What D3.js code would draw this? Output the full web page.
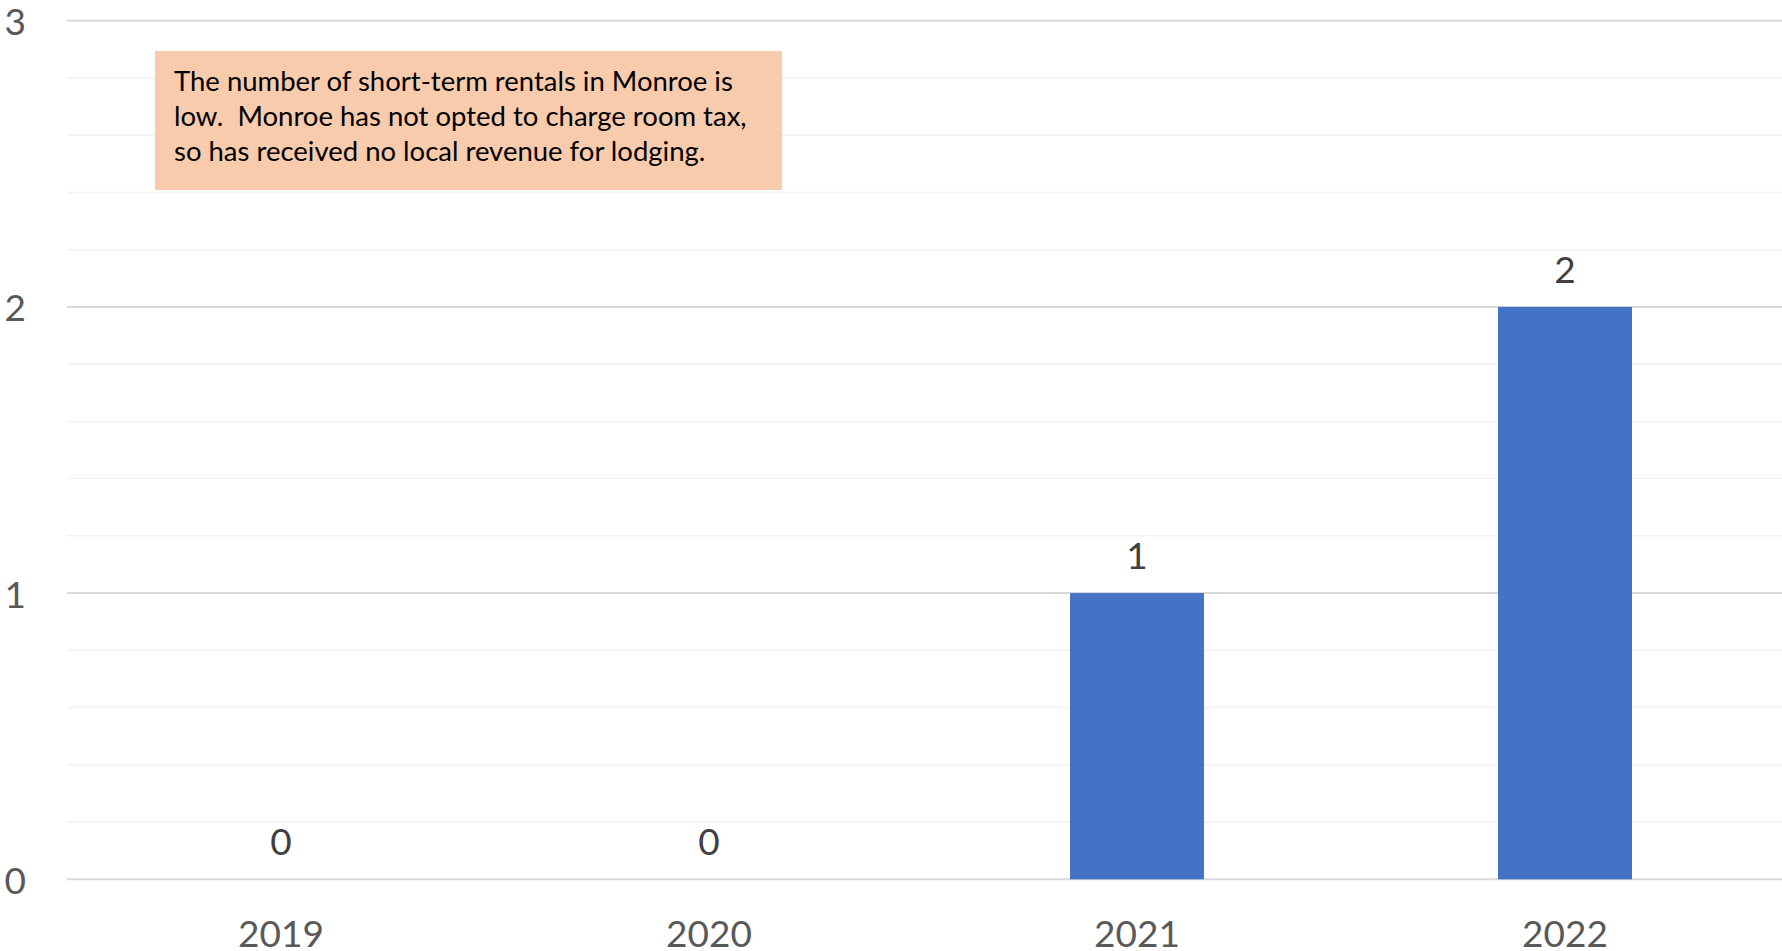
<!DOCTYPE html>
<html>
<head>
<meta charset="utf-8">
<script src="https://cdn.jsdelivr.net/npm/d3@7"></script>
<style>
  html, body { margin: 0; padding: 0; background: #fff; }
  svg { display: block; }
  .note-line { white-space: pre; }
</style>
</head>
<body>
<svg id="chart" width="1782" height="951"></svg>
<script>
// Short-term rentals in Monroe, by year
const years = ["2019", "2020", "2021", "2022"];
const rentals = [0, 0, 1, 2];
const yTicks = [0, 1, 2, 3];
const noteLines = [
  "The number of short-term rentals in Monroe is",
  "low.  Monroe has not opted to charge room tax,",
  "so has received no local revenue for lodging."
];

const font = "Lato, 'Open Sans', sans-serif";
const svg = d3.select("#chart");

const plot = { left: 67, right: 1779, top: 20.7, bottom: 879.3 };

const x = d3.scaleBand()
  .domain(years)
  .range([plot.left, plot.right])
  .paddingInner(0.687)
  .paddingOuter(0.3435);

const y = d3.scaleLinear()
  .domain([0, 3])
  .range([plot.bottom, plot.top]);

// minor gridlines every 0.2
const minor = d3.range(0, 3.0001, 0.2).filter(v => Math.abs(v - Math.round(v)) > 1e-6);
svg.append("g").selectAll("line").data(minor).join("line")
  .attr("x1", plot.left).attr("x2", 1782)
  .attr("y1", d => y(d)).attr("y2", d => y(d))
  .attr("stroke", "#f2f2f2").attr("stroke-width", 1.5);

// major gridlines
svg.append("g").selectAll("line").data(yTicks).join("line")
  .attr("x1", plot.left).attr("x2", 1782)
  .attr("y1", d => y(d)).attr("y2", d => y(d))
  .attr("stroke", "#d9d9d9").attr("stroke-width", 2);

// y tick labels
svg.append("g").selectAll("text").data(yTicks).join("text")
  .attr("x", 26).attr("y", d => y(d))
  .attr("text-anchor", "end")
  .attr("dominant-baseline", "central")
  .attr("font-family", font).attr("font-size", 37)
  .attr("fill", "#595959")
  .text(d => d);

// bars
svg.append("g").selectAll("rect").data(years).join("rect")
  .attr("x", d => x(d))
  .attr("width", x.bandwidth())
  .attr("y", (d, i) => y(rentals[i]))
  .attr("height", (d, i) => y(0) - y(rentals[i]))
  .attr("fill", "#4472c4");

// value labels
svg.append("g").selectAll("text").data(years).join("text")
  .attr("x", d => x(d) + x.bandwidth() / 2)
  .attr("y", (d, i) => y(rentals[i]) - 24)
  .attr("text-anchor", "middle")
  .attr("font-family", font).attr("font-size", 37)
  .attr("fill", "#404040")
  .text((d, i) => rentals[i]);

// category labels
svg.append("g").selectAll("text").data(years).join("text")
  .attr("x", d => x(d) + x.bandwidth() / 2)
  .attr("y", 947)
  .attr("text-anchor", "middle")
  .attr("font-family", font).attr("font-size", 37)
  .attr("fill", "#595959")
  .text(d => d);

// note box
const note = svg.append("g");
note.append("rect")
  .attr("x", 155).attr("y", 51)
  .attr("width", 627).attr("height", 139)
  .attr("fill", "#f8cbad");
const noteText = note.selectAll("text").data(noteLines).join("text")
  .attr("class", "note-line")
  .attr("x", 174)
  .attr("y", (d, i) => 91 + i * 35)
  .attr("font-family", font).attr("font-size", 26)
  .attr("fill", "#000")
  .text(d => d);
// fit the first line to the box's text width
const w0 = noteText.node().getComputedTextLength();
const fs = 26 * 559 / w0;
noteText.attr("font-size", fs);
</script>
</body>
</html>
